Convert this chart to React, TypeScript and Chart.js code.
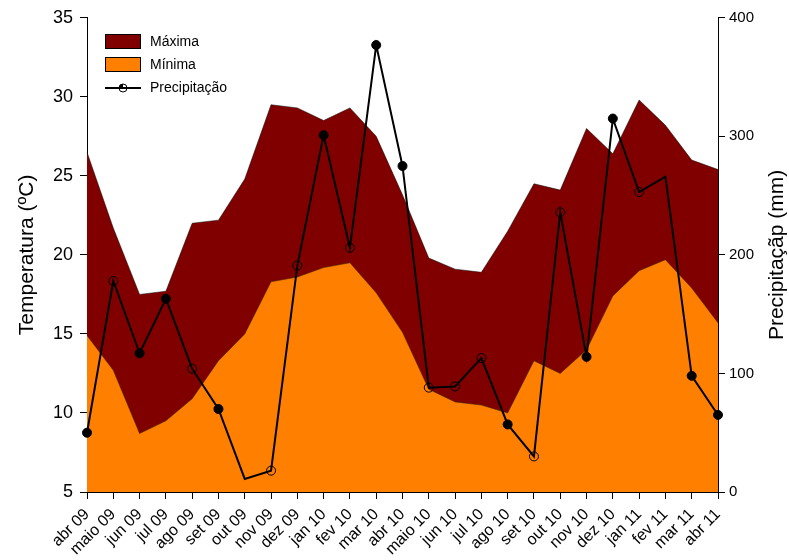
import React, { useEffect, useRef } from "react";
import { Chart, registerables } from "chart.js";

Chart.register(...registerables);

const labels = ["abr 09","maio 09","jun 09","jul 09","ago 09","set 09","out 09","nov 09","dez 09","jan 10","fev 10","mar 10","abr 10","maio 10","jun 10","jul 10","ago 10","set 10","out 10","nov 10","dez 10","jan 11","fev 11","mar 11","abr 11"];
const maxima = [26.5, 21.7, 17.5, 17.7, 22.0, 22.2, 24.8, 29.5, 29.3, 28.5, 29.3, 27.5, 23.8, 19.8, 19.1, 18.9, 21.5, 24.5, 24.1, 28.0, 26.4, 29.8, 28.2, 26.0, 25.4];
const minima = [14.9, 12.7, 8.7, 9.5, 10.9, 13.3, 15.0, 18.3, 18.6, 19.2, 19.5, 17.6, 15.1, 11.5, 10.7, 10.5, 10.0, 13.3, 12.5, 14.0, 17.4, 19.0, 19.7, 17.9, 15.7];
const precipitacao = [50, 178, 117, 163, 104, 70, 11, 18, 191, 301, 206, 377, 275, 88, 89, 113, 57, 30, 236, 114, 315, 253, 266, 98, 65];
// f = filled marker, o = open marker, n = no marker
const markerKind = ["f","o","f","f","o","f","n","o","o","f","o","f","f","o","o","o","f","o","o","f","f","o","n","f","f"];
const tempTicks = [5, 10, 15, 20, 25, 30, 35];
const precipTicks = [0, 100, 200, 300, 400];

const FONT = "Arial, 'Liberation Sans', sans-serif";
const DARK = "#800000";
const ORANGE = "#FF8000";

const overlayPlugin = {
  id: "overlay",
  afterDraw(chart: any) {
    const ctx = chart.ctx;
    const a = chart.chartArea;
    const cy = (a.top + a.bottom) / 2;
    ctx.save();
    ctx.fillStyle = "#000";
    ctx.font = `21px ${FONT}`;
    ctx.textAlign = "center";
    ctx.textBaseline = "middle";
    ctx.translate(27, cy);
    ctx.rotate(-Math.PI / 2);
    ctx.fillText("Temperatura (ºC)", 0, 0);
    ctx.restore();

    ctx.save();
    ctx.fillStyle = "#000";
    ctx.font = `21px ${FONT}`;
    ctx.textAlign = "center";
    ctx.textBaseline = "middle";
    ctx.translate(777, cy);
    ctx.rotate(-Math.PI / 2);
    ctx.fillText("Precipitaçãp (mm)", 0, 0);
    ctx.restore();

    // legend
    ctx.save();
    ctx.font = `14px ${FONT}`;
    ctx.textBaseline = "middle";
    ctx.textAlign = "left";
    ctx.lineWidth = 1;
    ctx.strokeStyle = "#000";
    ctx.fillStyle = DARK;
    ctx.fillRect(105.5, 34.5, 35, 14);
    ctx.strokeRect(105.5, 34.5, 35, 14);
    ctx.fillStyle = ORANGE;
    ctx.fillRect(105.5, 57.5, 35, 14);
    ctx.strokeRect(105.5, 57.5, 35, 14);
    ctx.lineWidth = 2;
    ctx.beginPath();
    ctx.moveTo(105, 88);
    ctx.lineTo(141, 88);
    ctx.stroke();
    ctx.lineWidth = 1;
    ctx.beginPath();
    ctx.arc(123, 88, 4, 0, Math.PI * 2);
    ctx.fillStyle = "#fff";
    ctx.fill();
    ctx.stroke();
    ctx.beginPath();
    ctx.arc(123, 88, 4, Math.PI, Math.PI * 1.5);
    ctx.lineTo(123, 88);
    ctx.closePath();
    ctx.fillStyle = "#000";
    ctx.fill();
    ctx.beginPath();
    ctx.moveTo(119, 88);
    ctx.lineTo(127, 88);
    ctx.lineWidth = 2;
    ctx.stroke();
    ctx.fillStyle = "#000";
    ctx.fillText("Máxima", 150, 42);
    ctx.fillText("Mínima", 150, 65);
    ctx.fillText("Precipitação", 150, 88);
    ctx.restore();
  },
};

export default function App() {
  const ref = useRef<HTMLCanvasElement | null>(null);
  useEffect(() => {
    if (!ref.current) return;
    const gridOpts = {
      drawOnChartArea: false,
      drawTicks: true,
      tickLength: 7,
      color: "#000",
      tickColor: "#000",
      lineWidth: 1,
    };
    const chart = new Chart(ref.current, {
      type: "line",
      data: {
        labels,
        datasets: [
          {
            label: "Precipitação",
            data: precipitacao,
            yAxisID: "y2",
            borderColor: "#000",
            borderWidth: 2,
            fill: false,
            tension: 0,
            clip: false as any,
            pointRadius: markerKind.map((k) => (k === "n" ? 0 : 4.5)),
            pointBackgroundColor: markerKind.map((k) => (k === "f" ? "#000" : "rgba(0,0,0,0)")),
            pointBorderColor: "#000",
            pointBorderWidth: 1,
            order: 0,
          },
          {
            label: "Mínima",
            data: minima,
            yAxisID: "y",
            borderColor: "rgba(60,40,0,0.8)",
            borderWidth: 0.7,
            backgroundColor: ORANGE,
            fill: "start",
            pointRadius: 0,
            tension: 0,
            order: 1,
          },
          {
            label: "Máxima",
            data: maxima,
            yAxisID: "y",
            borderColor: "rgba(0,0,0,0.7)",
            borderWidth: 0.7,
            backgroundColor: DARK,
            fill: "start",
            pointRadius: 0,
            tension: 0,
            order: 2,
          },
        ],
      },
      options: {
        animation: false,
        responsive: false,
        maintainAspectRatio: false,
        layout: { padding: { top: 17, right: 0, left: 0, bottom: 0 } },
        plugins: {
          legend: { display: false },
          tooltip: { enabled: false },
        },
        scales: {
          x: {
            type: "category",
            offset: false,
            grid: gridOpts as any,
            border: { display: true, color: "#000", width: 1 },
            ticks: {
              autoSkip: false,
              maxRotation: 45,
              minRotation: 45,
              color: "#000",
              font: { family: FONT, size: 16 },
              padding: 6,
            },
            afterFit: (s: any) => { s.height = 68; },
          },
          y: {
            type: "linear",
            position: "left",
            min: 5,
            max: 35,
            grid: gridOpts as any,
            border: { display: true, color: "#000", width: 1 },
            afterBuildTicks: (s: any) => { s.ticks = tempTicks.map((v) => ({ value: v })); },
            ticks: { color: "#000", font: { family: FONT, size: 18 }, padding: 7 },
            afterFit: (s: any) => { s.width = 87; },
          },
          y2: {
            type: "linear",
            position: "right",
            min: 0,
            max: 400,
            grid: gridOpts as any,
            border: { display: true, color: "#000", width: 1 },
            afterBuildTicks: (s: any) => { s.ticks = precipTicks.map((v) => ({ value: v })); },
            ticks: { color: "#000", font: { family: FONT, size: 15 }, padding: 4 },
            afterFit: (s: any) => { s.width = 71; },
          },
        },
      },
      plugins: [overlayPlugin],
    });
    return () => chart.destroy();
  }, []);
  return (
    <div style={{ position: "fixed", left: 0, top: 0, width: 789, height: 560, background: "#fff" }}>
      <canvas ref={ref} width={789} height={560} style={{ width: 789, height: 560 }} />
    </div>
  );
}
